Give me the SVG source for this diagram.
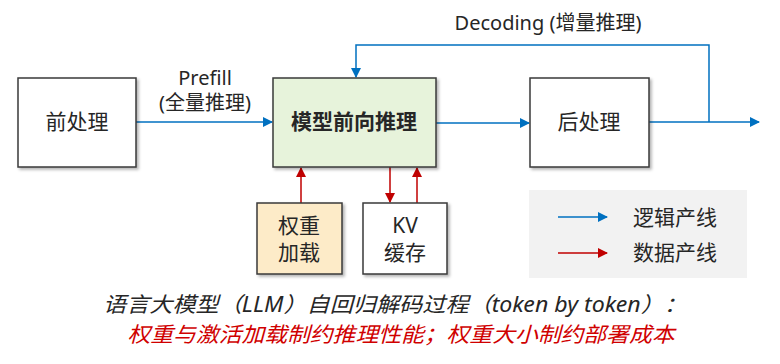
<svg xmlns="http://www.w3.org/2000/svg" width="780" height="364" viewBox="0 0 780 364">
<defs>
<style>
.box{stroke:#3a3a3a;stroke-width:1.5;}
.t{font-family:"Noto Sans","Noto Sans CJK SC",sans-serif;fill:#262626;text-anchor:middle;}
.blue{stroke:#0070C0;stroke-width:1.5;fill:none;}
.red{stroke:#C00000;stroke-width:1.5;fill:none;}
</style>
<marker id="ab" viewBox="0 0 10 10" refX="9" refY="5" markerWidth="11" markerHeight="10" markerUnits="userSpaceOnUse" orient="auto"><path d="M0,0 L10,5 L0,10 z" fill="#0070C0"/></marker>
<marker id="ar" viewBox="0 0 10 10" refX="9" refY="5" markerWidth="11" markerHeight="10" markerUnits="userSpaceOnUse" orient="auto"><path d="M0,0 L10,5 L0,10 z" fill="#C00000"/></marker>
<filter id="sh" x="-10%" y="-10%" width="130%" height="130%"><feDropShadow dx="2" dy="2" stdDeviation="1.5" flood-color="#000" flood-opacity="0.3"/></filter>
</defs>
<rect width="780" height="364" fill="#fff"/>
<g id="legend">
<rect x="529" y="190" width="218" height="88" fill="#F2F2F2"/>
<line x1="558" y1="217" x2="607" y2="217" class="blue" marker-end="url(#ab)"/>
<line x1="558" y1="253" x2="607" y2="253" class="red" marker-end="url(#ar)"/>
<text x="633" y="225" class="t" style="text-anchor:start" font-size="21">逻辑产线</text>
<text x="633" y="260" class="t" style="text-anchor:start" font-size="21">数据产线</text>
</g>
<g id="connectors">
<line x1="136" y1="122" x2="272" y2="122" class="blue" marker-end="url(#ab)"/>
<line x1="436" y1="123" x2="529" y2="123" class="blue" marker-end="url(#ab)"/>
<line x1="649" y1="122" x2="759" y2="122" class="blue" marker-end="url(#ab)"/>
<polyline points="709,122 709,45 356,45 356,77" class="blue" marker-end="url(#ab)"/>
<line x1="301" y1="203" x2="301" y2="168" class="red" marker-end="url(#ar)"/>
<line x1="390" y1="167" x2="390" y2="202" class="red" marker-end="url(#ar)"/>
<line x1="417" y1="203" x2="417" y2="168" class="red" marker-end="url(#ar)"/>
<text x="548" y="30" class="t" font-size="20">Decoding (增量推理)</text>
<text x="205" y="85" class="t" font-size="20">Prefill</text>
<text x="205" y="110" class="t" font-size="20">(全量推理)</text>
</g>
<g id="pre">
<rect x="18" y="78" width="118" height="89" fill="#fff" class="box" filter="url(#sh)"/>
<text x="77" y="129" class="t" font-size="21">前处理</text>
</g>
<g id="model">
<rect x="273" y="78" width="163" height="89" fill="#E7F3DB" class="box" filter="url(#sh)"/>
<text x="354" y="129" class="t" font-size="21" font-weight="bold">模型前向推理</text>
</g>
<g id="post">
<rect x="530" y="78" width="119" height="89" fill="#fff" class="box" filter="url(#sh)"/>
<text x="589" y="129" class="t" font-size="21">后处理</text>
</g>
<g id="weight">
<rect x="257" y="203" width="85" height="71" fill="#FDEBC8" class="box" filter="url(#sh)"/>
<text x="299" y="233" class="t" font-size="21">权重</text>
<text x="299" y="260" class="t" font-size="21">加载</text>
</g>
<g id="kv">
<rect x="363" y="203" width="84" height="71" fill="#fff" class="box" filter="url(#sh)"/>
<text x="405" y="233" class="t" font-size="21">KV</text>
<text x="405" y="260" class="t" font-size="21">缓存</text>
</g>
<g id="caption">
<text x="395" y="312" class="t" font-size="21" font-style="italic" textLength="584" lengthAdjust="spacingAndGlyphs">语言大模型（LLM）自回归解码过程（token by token）：</text>
<text x="401" y="342" class="t" font-size="21" font-style="italic" style="fill:#D00000" textLength="547" lengthAdjust="spacingAndGlyphs">权重与激活加载制约推理性能；权重大小制约部署成本</text>
</g>
</svg>
